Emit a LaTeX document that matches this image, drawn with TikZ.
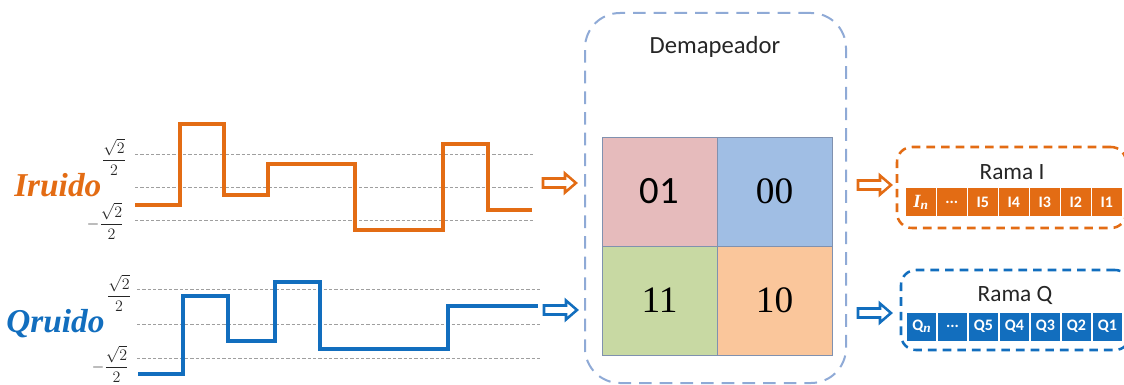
\documentclass[tikz,border=0pt]{standalone}
\usepackage{fontspec}
\usepackage{amsmath}
\newfontfamily\calibri{Carlito}
\newfontfamily\cambria{Liberation Serif}
\newcommand\myregsym{\cambria\bfseries\itshape\fontsize{14}{14}\selectfont}
\newcommand\myregsub{\cambria\bfseries\itshape\fontsize{10}{10}\selectfont}
\definecolor{myorange}{RGB}{227,108,20}
\definecolor{myblue}{RGB}{18,110,190}
\definecolor{boxblue}{RGB}{143,170,214}
\definecolor{cpink}{RGB}{230,187,188}
\definecolor{cblue}{RGB}{160,190,228}
\definecolor{cgreen}{RGB}{200,217,163}
\definecolor{corange}{RGB}{250,198,155}
\definecolor{gridline}{RGB}{128,145,175}
\definecolor{txt}{RGB}{38,38,38}
\newdimen\px \px=0.75pt
\begin{document}
\begin{tikzpicture}[x=0.75pt,y=-0.75pt,
  guide/.style={draw=gray!75, line width=0.75pt, dash pattern=on 2.5pt off 1.5pt},
  sigI/.style={draw=myorange, line width=2.5pt, line join=miter},
  sigQ/.style={draw=myblue, line width=2.5pt, line join=miter},
  hollow/.style={line width=1.9pt, line join=miter},
  frac/.style={font=\fontsize{13}{15}\selectfont, inner sep=0pt, text=txt},
  ruido/.style={font=\cambria\bfseries\itshape\fontsize{25}{30}\selectfont, anchor=base west, inner sep=0pt},
  cell/.style={draw=gridline, line width=0.6pt, minimum width=115\px, minimum height=109\px, inner sep=0pt, text=black},
  serifdig/.style={font=\cambria\fontsize{28}{30}\selectfont},
  sansdig/.style={font=\calibri\fontsize{29}{30}\selectfont},
  reg/.style={minimum width=29.5\px, minimum height=28\px, inner sep=0pt, text=white, font=\calibri\bfseries\fontsize{12}{14}\selectfont},
  rama/.style={rounded corners=15\px, line width=1.9pt, dash pattern=on 6.5pt off 4.5pt},
  lbl/.style={font=\calibri\fontsize{17.5}{20}\selectfont, text=txt, inner sep=0pt},
  pics/harrow/.style={code={\draw[hollow,draw=#1,fill=white] (0,-4.5) -- (22,-4.5) -- (22,-9.5) -- (33,0) -- (22,9.5) -- (22,4.5) -- (0,4.5) -- cycle;}}
]
\useasboundingbox (0,0) rectangle (1124,385);

% ---------- I branch signal ----------
\foreach \yy in {154,187,220} \draw[guide] (135,\yy) -- (535,\yy);
\draw[sigI] (135,205) -| (180,124) -| (224,195) -| (268,164) -| (355,230) -| (443,144) -| (488,210) -- (532,210);
\node[ruido, text=myorange] (iruido) at (14,196) {Iruido};
\node[frac] (ip) at (114,157) {$\dfrac{\sqrt{2}}{2}$};
\node[frac, anchor=east] (im) at (124,221) {$-\dfrac{\sqrt{2}}{2}$};

% ---------- Q branch signal ----------
\foreach \yy in {289,324,358} \draw[guide] (137,\yy) -- (540,\yy);
\draw[sigQ] (138,374) -| (183,296) -| (228,341) -| (275,282) -| (320,349) -| (448,306) -- (538,306);
\node[ruido, text=myblue] (qruido) at (6,332) {Qruido};
\node[frac] (qp) at (119,293) {$\dfrac{\sqrt{2}}{2}$};
\node[frac, anchor=east] (qm) at (129,364) {$-\dfrac{\sqrt{2}}{2}$};

% ---------- Demapper ----------
\node[draw=boxblue, line width=1.5pt, dash pattern=on 9.5pt off 6pt, rounded corners=35\px,
      minimum width=261\px, minimum height=370\px, inner sep=0pt] (demap) at (715.5,198) {};
\node[lbl, font=\calibri\fontsize{18.5}{20}\selectfont] (demaplbl) at (715,47) {Demapeador};

\node[cell, fill=cpink, sansdig] (c01) at (659.5,191.5) {01};
\node[cell, fill=cblue, serifdig] (c00) at (774.5,191.5) {00};
\node[cell, fill=cgreen, serifdig] (c11) at (659.5,300.5) {11};
\node[cell, fill=corange, serifdig] (c10) at (774.5,300.5) {10};

% ---------- hollow arrows ----------
\coordinate (a1) at (543,183);
\coordinate (a2) at (544,310);
\coordinate (a3) at (858,185);
\coordinate (a4) at (858,313);
\pic at (a1) {harrow=myorange};
\pic at (a2) {harrow=myblue};
\pic at (a3) {harrow=myorange};
\pic at (a4) {harrow=myblue};

% ---------- Rama I ----------
\node[rama, draw=myorange, minimum width=229\px, minimum height=81\px, inner sep=0pt] (ramaI) at (1011.5,187.5) {};
\node[lbl] (ramaIlbl) at (1012,172) {Rama I};
\node[reg, fill=myorange] (i0) at (920.75,202) {{\myregsym I}\raisebox{-0.25ex}{\myregsub n}};
\node[reg, fill=myorange] (i1) at (951.75,202) {\textbf{...}};
\node[reg, fill=myorange] (i2) at (982.75,202) {I5};
\node[reg, fill=myorange] (i3) at (1013.75,202) {I4};
\node[reg, fill=myorange] (i4) at (1044.75,202) {I3};
\node[reg, fill=myorange] (i5) at (1075.75,202) {I2};
\node[reg, fill=myorange] (i6) at (1106.75,202) {I1};

% ---------- Rama Q ----------
\node[rama, draw=myblue, minimum width=229\px, minimum height=80\px, inner sep=0pt] (ramaQ) at (1015.5,310) {};
\node[lbl] (ramaQlbl) at (1015,295) {Rama Q};
\node[reg, fill=myblue] (q0) at (921.5,326.5) {Q\raisebox{-0.25ex}{\myregsub n}};
\node[reg, fill=myblue] (q1) at (952.5,326.5) {\textbf{...}};
\node[reg, fill=myblue] (q2) at (983.5,326.5) {Q5};
\node[reg, fill=myblue] (q3) at (1014.5,326.5) {Q4};
\node[reg, fill=myblue] (q4) at (1045.5,326.5) {Q3};
\node[reg, fill=myblue] (q5) at (1076.5,326.5) {Q2};
\node[reg, fill=myblue] (q6) at (1107.5,326.5) {Q1};
\end{tikzpicture}
\end{document}
